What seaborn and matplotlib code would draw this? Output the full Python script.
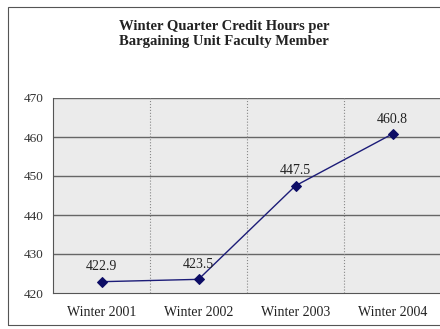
import matplotlib
matplotlib.use("Agg")
import matplotlib.pyplot as plt
import seaborn as sns
import pandas as pd
from matplotlib.patches import Rectangle

categories = ["Winter 2001", "Winter 2002", "Winter 2003", "Winter 2004"]
values = [422.9, 423.5, 447.5, 460.8]
yticks = [420, 430, 440, 450, 460, 470]

sns.set_style("white")
plt.rcParams['font.family'] = ['Liberation Serif', 'DejaVu Serif']

df = pd.DataFrame({"pos": range(len(categories)), "val": values})

fig = plt.figure(figsize=(4.4, 3.29), dpi=100)
fig.patch.set_facecolor("white")
fig.patches.append(Rectangle((8/440, 4/329), 1.0, 1 - 11/329, transform=fig.transFigure,
                             fill=False, edgecolor="#555555", linewidth=0.8))
ax = fig.add_axes([53/440, 1 - 293/329, 388/440, 195/329])
ax.set_facecolor("#ebebeb")

sns.lineplot(data=df, x="pos", y="val", ax=ax, color="#1c1c78", linewidth=1.0,
             marker="D", markersize=5.5, markerfacecolor="#0d0d66", markeredgecolor="#0d0d66")

ax.set_xlim(-0.5, len(categories) - 0.5)
ax.set_ylim(420, 470)
ax.set_yticks(yticks)
ax.set_yticklabels([str(t) for t in yticks], fontsize=9.5, color="#333333")
ax.set_xticks(range(len(categories)))
ax.set_xticklabels(categories, fontsize=10, color="#222222")
ax.set_xticks([i + 0.5 for i in range(-1, len(categories))], minor=True)
ax.tick_params(axis="x", which="major", length=0, pad=9)
ax.tick_params(axis="x", which="minor", length=4, direction="out", color="#555555")
ax.tick_params(axis="y", length=4, direction="out", color="#555555", pad=3)
ax.set_xlabel("")
ax.set_ylabel("")

for t in yticks[1:]:
    ax.axhline(t, color="#666666", linewidth=1.0, zorder=1)
for b in [0.5, 1.5, 2.5]:
    ax.axvline(b, color="#888888", linewidth=0.8, linestyle=":", zorder=1)

for i, v in enumerate(values):
    ax.annotate(f"{v:.1f}", (i, v), xytext=(0, 6), textcoords="offset points",
                ha="center", va="bottom", fontsize=10, color="#222222")

for side in ["top", "right"]:
    ax.spines[side].set_visible(False)
ax.spines["left"].set_color("#555555")
ax.spines["bottom"].set_color("#555555")

fig.text(224/440, 1 - 34/329, "Winter Quarter Credit Hours per\nBargaining Unit Faculty Member",
         ha="center", va="center", fontsize=10.5, fontweight="bold", linespacing=1.25, color="#222222")

fig.savefig("out.png", dpi=100)
